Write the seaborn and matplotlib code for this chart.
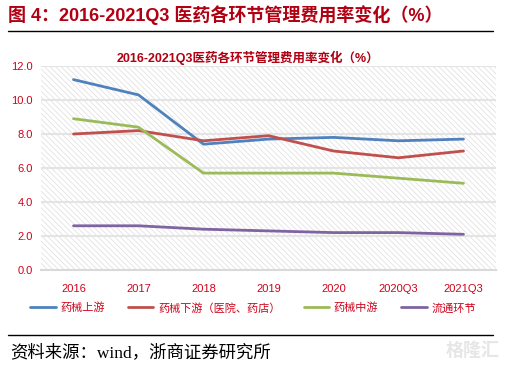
import numpy as np
import pandas as pd
import matplotlib
matplotlib.use("Agg")
import matplotlib.pyplot as plt
import seaborn as sns
from matplotlib.patches import Rectangle

# Dane
okresy = ['2016', '2017', '2018', '2019', '2020', '2020Q3', '2021Q3']
serie = ['药械上游', '药械下游（医院、药店）', '药械中游', '流通环节']
shangyou = [11.2, 10.3, 7.4, 7.7, 7.8, 7.6, 7.7]
xiayou = [8.0, 8.2, 7.6, 7.9, 7.0, 6.6, 7.0]
zhongyou = [8.9, 8.4, 5.7, 5.7, 5.7, 5.4, 5.1]
liutong = [2.6, 2.6, 2.4, 2.3, 2.2, 2.2, 2.1]
kolory = ['#4F81BD', '#C0504D', '#9BBB59', '#8064A2']

df = pd.DataFrame({'okres': okresy * 4,
                   'seria': np.repeat(serie, len(okresy)),
                   'wartosc': shangyou + xiayou + zhongyou + liutong})

sns.set_style("white")
plt.rcParams['font.family'] = ['Liberation Sans', 'Noto Sans CJK SC']
plt.rcParams['hatch.linewidth'] = 0.5
plt.rcParams['hatch.color'] = '#DDDDDD'

czerwony = '#D0021B'
ciemny = '#B00012'

fig = plt.figure(figsize=(5.09, 3.70), dpi=100)
ax = fig.add_axes([41 / 509, 1 - 270 / 370, 455 / 509, 204 / 370])

# tlo w paski
ax.add_patch(Rectangle((0, 0), 1, 1, transform=ax.transAxes, facecolor='white',
                       edgecolor='#DDDDDD', hatch='\\' * 6, lw=0, zorder=0))

sns.lineplot(data=df, x='okres', y='wartosc', hue='seria', palette=kolory,
             linewidth=2, sort=False, ax=ax, legend=False, zorder=3)

ax.set_xlim(-0.5, len(okresy) - 0.5)
ax.set_ylim(0, 12)
ax.set_yticks(np.arange(0, 12.1, 2))
ax.set_yticklabels([f"{v:.1f}" for v in np.arange(0, 12.1, 2)])
for y in np.arange(2, 12.1, 2):
    ax.axhline(y, color='#E4E4E4', lw=1.5, zorder=1)
ax.set_xlabel("")
ax.set_ylabel("")
for s in ['top', 'right', 'left']:
    ax.spines[s].set_visible(False)
ax.spines['bottom'].set_color('#D9D9D9')
ax.spines['bottom'].set_linewidth(1.5)
ax.tick_params(axis='both', length=0, colors=czerwony, labelsize=8)
ax.tick_params(axis='x', pad=10)
ax.tick_params(axis='y', pad=6)

# legenda
uchwyty = [plt.Line2D([], [], color=k, lw=2) for k in kolory]
leg = fig.legend(uchwyty, serie, loc='center', bbox_to_anchor=(253 / 509, 1 - 308 / 370),
                 ncol=4, frameon=False, fontsize=8, handlelength=2.3,
                 columnspacing=2.1, handletextpad=0.4)
for t in leg.get_texts():
    t.set_color(czerwony)

# tytuly
fig.text(8 / 509, 1 - 15 / 370, "图 4：2016-2021Q3 医药各环节管理费用率变化（%）",
         color=ciemny, fontsize=13, fontweight='bold', va='center', ha='left')
fig.add_artist(plt.Line2D([8 / 509, 493 / 509], [1 - 31 / 370, 1 - 31 / 370],
                          color='black', lw=1))
fig.text(248 / 509, 1 - 58 / 370, "2016-2021Q3医药各环节管理费用率变化（%）",
         color=ciemny, fontsize=9, fontweight='bold', va='center', ha='center')

# zrodlo
fig.add_artist(plt.Line2D([8 / 509, 493 / 509], [1 - 335 / 370, 1 - 335 / 370],
                          color='black', lw=1))
fig.text(10 / 509, 1 - 353 / 370, "资料来源：wind，浙商证券研究所",
         color='black', fontsize=12.5, va='center', ha='left',
         family=['Liberation Serif', 'Noto Sans CJK SC'])
fig.text(500 / 509, 1 - 351 / 370, "格隆汇", color='#E6E6E6', fontsize=13,
         fontweight='bold', va='center', ha='right')

fig.savefig("out.png", dpi=100)
